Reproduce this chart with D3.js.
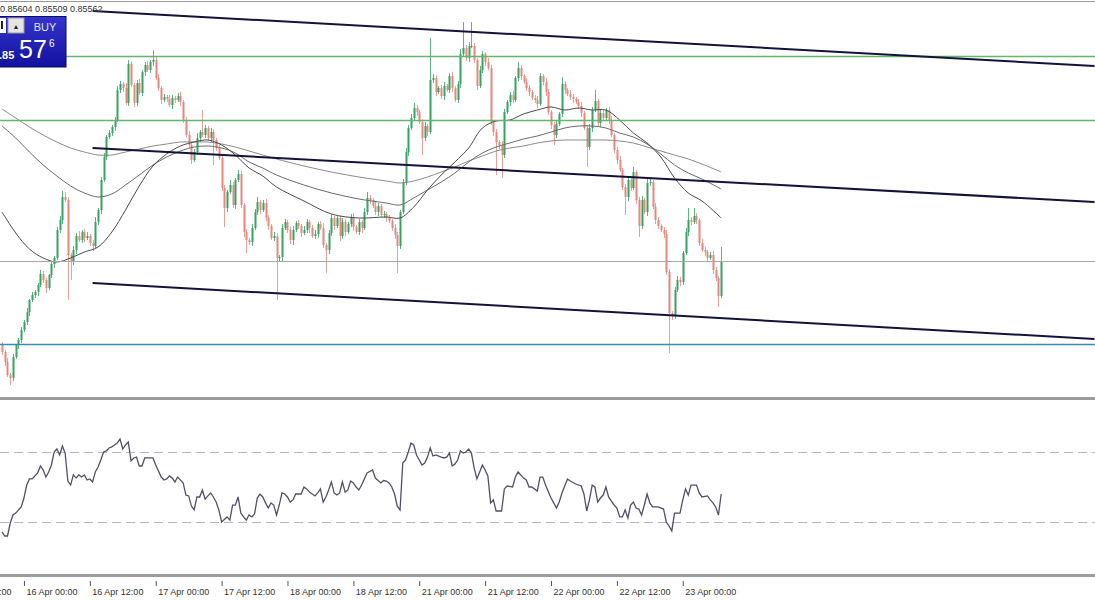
<!DOCTYPE html>
<html><head><meta charset="utf-8">
<script src="https://d3js.org/d3.v7.min.js"></script>
<style>html,body{margin:0;padding:0;background:#fff;overflow:hidden}text{font-family:"Liberation Sans",Arial,sans-serif}</style>
</head><body><svg id="c" width="1095" height="600"></svg>
<script>
// ---- DATA (prices in points above 0.85000, i.e. 562 = 0.85562) ----
const firstOpen = 310;
const closes = [
289,259,220,211,274,310,325,355,379,409,445,460,469,490,523,505,481,520,553,571,
655,685,754,745,580,559,595,637,625,649,631,637,616,607,679,715,805,874,934,946,
964,985,1075,1093,1081,1036,1153,1090,1036,1096,1066,1129,1150,1135,1159,1165,1111,1081,1045,1054,
1048,1030,1051,1045,1057,1039,985,940,910,865,889,931,949,940,961,931,949,925,901,871,
781,721,769,790,730,805,823,730,649,625,619,661,709,739,715,736,691,667,631,637,
571,574,661,679,655,625,655,676,667,646,655,679,661,637,643,673,661,610,595,646,
691,667,691,637,679,649,673,694,664,649,679,661,709,751,745,727,709,727,700,703,
691,682,661,640,607,709,799,889,961,991,1021,1009,979,931,967,949,1105,1111,1069,1081,
1057,1087,1075,1117,1081,1045,1093,1183,1201,1171,1207,1207,1165,1087,1135,1183,1159,1141,979,949,
919,910,880,1009,1039,1060,1045,1111,1141,1117,1099,1081,1069,1051,1045,1033,1117,1099,1069,1009,
970,940,973,1003,1093,1075,1063,1054,1048,1039,1027,1006,961,904,961,1015,1042,976,1006,991,
1015,985,940,895,865,835,784,754,805,781,829,745,667,745,709,796,799,724,685,667,
655,643,529,406,397,475,505,499,586,649,685,679,697,685,616,595,589,571,580,535,
511,457,562];
const upW = [
9,6,12,6,9,3,6,9,6,12,3,9,6,6,12,9,6,3,9,6,
9,12,18,15,9,6,12,9,15,6,9,12,6,9,15,6,9,12,6,9,
6,9,12,9,6,15,12,9,6,9,12,6,9,12,6,30,9,12,6,9,
6,12,9,6,9,12,6,9,12,6,9,15,6,66,9,6,12,9,6,9,
12,9,6,15,9,6,12,9,6,9,6,12,9,15,6,9,12,9,6,12,
9,6,12,9,6,9,12,6,9,6,12,9,6,9,12,6,9,15,6,9,
12,6,9,6,12,9,6,9,12,6,9,6,12,18,9,6,12,9,6,9,
6,9,6,12,9,6,9,12,9,12,15,9,6,9,12,6,126,12,9,6,
9,12,6,9,12,6,9,15,78,9,12,72,9,6,12,9,6,12,9,6,
9,6,12,9,6,9,12,6,18,9,6,12,9,6,9,12,9,6,12,9,
6,9,12,6,21,9,6,12,9,6,9,12,6,9,12,9,33,6,12,9,
6,9,12,6,9,12,6,9,12,9,15,6,9,12,6,15,9,6,12,9,
6,9,12,9,6,9,12,9,6,12,36,9,24,9,6,12,9,6,9,12,
9,6,42];
const loW = [
9,12,6,21,9,6,12,9,6,9,12,6,9,12,6,9,15,6,9,12,
6,9,12,6,135,54,9,12,6,9,12,6,9,15,6,9,12,6,9,6,
9,12,6,9,12,6,9,6,12,9,6,9,12,6,9,12,6,9,12,6,
9,6,12,9,6,12,9,6,9,12,6,9,12,6,9,6,12,75,9,6,
9,57,12,6,9,12,6,9,15,39,9,12,6,9,12,6,9,12,6,9,
126,9,12,6,9,12,15,6,9,12,6,9,15,6,9,12,6,9,69,12,
9,12,6,15,9,12,6,9,12,6,9,15,6,9,12,6,9,12,6,9,
12,6,9,12,81,9,6,9,12,6,9,12,6,51,9,12,6,9,12,6,
9,12,6,9,12,6,9,12,6,9,12,6,9,12,6,9,12,6,9,12,
99,12,69,9,6,12,9,6,9,12,6,9,12,6,9,12,6,9,12,9,
12,30,9,6,9,12,6,9,12,6,9,12,6,60,9,12,6,9,12,6,
9,12,6,9,12,6,9,54,12,9,6,12,33,9,6,12,9,6,12,9,
6,12,9,120,12,9,6,12,9,6,12,9,6,12,9,6,12,9,6,12,
9,33,6];

const maIdx  = [0,5,10,15,20,25,30,35,40,45,50,55,60,65,70,75,80,85,90,95,100,110,120,130,140,145,150,155,160,165,170,175,180,185,190,195,200,205,210,215,220,225,230,235,240,245,250,255,262];
const maFast = [709,646,598,571,559,571,589,604,649,715,787,847,883,907,919,925,910,880,841,817,784,742,703,691,694,691,724,775,820,859,901,961,982,985,1003,1015,1024,1015,1021,1015,1015,985,946,916,874,811,766,742,691];
const maMid  = [967,931,889,850,817,787,766,754,763,790,820,850,874,892,904,907,901,886,859,841,820,790,766,748,736,730,751,775,799,826,859,886,904,916,928,937,949,961,967,967,961,946,934,913,883,850,826,808,778];
const maSlow = [1018,991,964,940,919,901,889,880,880,889,898,907,913,919,919,919,913,904,892,880,868,847,829,814,802,796,802,814,829,844,862,877,892,901,907,916,922,925,925,925,925,922,916,904,892,880,868,853,829];

const rsiIdx = [0,1,2,3,4,5,7,8,9,10,11,13,14,15,16,17,18,19,20,21,22,23,24,25,26,27,28,29,30,31,32,33,34,35,36,37,38,39,40,41,42,43,44,45,46,47,48,49,50,51,52,53,55,56,58,59,60,61,62,63,64,66,67,68,69,70,71,72,73,74,75,76,77,78,79,80,82,83,84,85,86,87,88,89,90,91,92,93,94,95,96,97,98,99,100,101,102,103,104,105,106,107,109,110,111,112,114,115,116,117,118,119,120,121,122,123,124,125,126,127,128,129,130,131,133,135,136,138,139,140,141,142,143,144,145,146,147,148,149,150,151,153,154,155,156,157,158,160,161,162,163,164,165,166,167,168,169,170,171,172,173,174,175,176,177,178,179,180,182,183,184,186,187,188,190,191,192,193,195,196,197,198,200,201,202,203,204,206,207,209,211,212,213,214,215,216,217,218,219,220,221,223,224,225,226,227,228,229,230,231,232,233,234,235,236,237,239,241,242,243,244,245,247,248,249,250,251,253,254,255,257,258,259,260,261,262];
const rsiVal = [24.3,22.0,22.0,29.4,34.0,35.1,38.6,43.7,51.1,54.6,54.6,58.0,62.0,59.7,55.7,58.6,62.6,70.0,71.7,68.3,73.4,69.4,53.4,51.1,56.9,55.1,56.9,55.7,56.9,54.0,54.6,52.9,58.6,61.4,65.4,70.0,70.6,72.3,72.9,74.0,75.1,77.4,71.7,74.0,75.7,64.9,66.6,67.1,62.0,62.0,66.6,66.6,66.6,62.6,55.7,54.0,54.6,56.3,55.1,52.9,55.7,52.3,45.4,44.9,39.1,36.9,44.3,44.3,48.3,43.1,44.9,46.6,44.3,41.4,36.9,30.0,32.9,31.1,39.7,39.7,44.3,35.1,32.9,31.1,34.0,32.9,34.6,43.7,46.0,44.3,40.9,38.0,40.9,39.7,34.0,39.7,46.6,46.0,44.3,41.4,42.6,46.0,46.0,50.0,48.9,47.1,44.9,46.6,48.9,41.4,44.3,48.3,52.9,46.6,45.4,46.6,52.9,47.1,48.3,53.4,52.3,50.0,48.3,51.1,58.0,59.7,55.1,52.3,53.7,53.4,52.3,50.0,46.0,39.0,36.9,63.7,65.4,70.0,75.1,74.0,68.3,62.6,63.7,67.1,72.3,67.7,68.3,67.1,66.6,67.1,69.4,62.0,63.1,65.4,70.6,69.4,70.0,71.7,69.4,60.9,54.6,58.6,62.6,59.7,56.3,40.9,42.6,36.3,36.3,48.9,50.6,50.0,55.7,58.6,55.1,54.0,50.0,50.0,47.7,55.7,55.7,51.1,43.7,40.9,38.0,41.4,46.6,54.6,53.4,51.7,50.6,46.0,36.3,42.6,51.1,50.0,41.4,43.7,45.4,50.0,44.3,39.7,38.0,32.9,32.9,36.9,32.3,39.7,41.4,38.0,37.4,34.0,39.7,46.0,40.9,38.6,38.6,37.4,30.0,27.7,24.9,35.1,35.1,42.6,48.9,45.4,51.1,51.1,46.6,44.3,44.9,42.6,40.9,38.6,34.0,46.0];
const rsiLevels = [70, 30];

const levelPrices = [1177, 985, 562, 313];
const levelColors = ["#62b866", "#62b866", "#a8a8a8", "#3a8cab"];

const trendIdx    = [[33, 398], [33, 398], [33, 398]];
const trendPrices = [[1312, 1147], [901, 739], [496, 328]];

const tickIdx    = [-16, 8, 32, 56, 80, 104, 128, 152, 176, 200, 224, 248];
const tickLabels = ["15 Apr 12:00","16 Apr 00:00","16 Apr 12:00","17 Apr 00:00","17 Apr 12:00","18 Apr 00:00","18 Apr 12:00","21 Apr 00:00","21 Apr 12:00","22 Apr 00:00","22 Apr 12:00","23 Apr 00:00"];
const headerText = "0.85604 0.85509 0.85562";
const buyLabel = "BUY", buyPre = ".85", buyBig = "57", buySup = "6";

// ---- DRAW ----
const P = v => 0.85 + v / 1e5;
const svg = d3.select("#c");
const x = d3.scaleLinear().domain([0, 262]).range([2, 721.2]);
const y = d3.scaleLinear().domain([0.85154, 0.86345]).range([397, 0]);
const yr = d3.scaleLinear().domain([0, 100]).range([574.5, 399.5]);

svg.append("rect").attr("width", 1095).attr("height", 600).attr("fill", "#fff");
const defs = svg.append("defs");
defs.append("clipPath").attr("id", "mainClip").append("rect").attr("x", 0).attr("y", 0).attr("width", 1095).attr("height", 396);
defs.append("clipPath").attr("id", "rsiClip").append("rect").attr("x", 0).attr("y", 401).attr("width", 1095).attr("height", 173);

const main = svg.append("g").attr("clip-path", "url(#mainClip)");

// candles
const bars = closes.map((c, i) => {
  const o = i ? closes[i - 1] : firstOpen;
  return { i, o: P(o), c: P(c), h: P(Math.max(o, c) + upW[i]), l: P(Math.min(o, c) - loW[i]) };
});
const bull = "#35a463", bear = "#e8867b";
const cg = main.append("g");
cg.selectAll("line.w").data(bars).join("line").attr("class", "w")
  .attr("x1", d => Math.round(x(d.i)) + 0.5).attr("x2", d => Math.round(x(d.i)) + 0.5)
  .attr("y1", d => y(d.h)).attr("y2", d => y(d.l))
  .attr("stroke", d => d.c >= d.o ? "#5bb582" : "#eaa098").attr("stroke-width", 1);
cg.selectAll("rect.b").data(bars).join("rect").attr("class", "b")
  .attr("x", d => Math.round(x(d.i)) - 0.5).attr("width", 2)
  .attr("y", d => y(Math.max(d.o, d.c)))
  .attr("height", d => Math.max(1, y(Math.min(d.o, d.c)) - y(Math.max(d.o, d.c))))
  .attr("fill", d => d.c >= d.o ? bull : bear);

// moving averages
const maLine = d3.line().x(d => x(d[0])).y(d => y(P(d[1]))).curve(d3.curveCatmullRom.alpha(0.5));
[[maSlow, "#8a8a8a"], [maMid, "#6a6a6a"], [maFast, "#4a4a4a"]].forEach(([arr, col]) => {
  main.append("path").attr("d", maLine(maIdx.map((k, j) => [k, arr[j]])))
    .attr("fill", "none").attr("stroke", col).attr("stroke-width", 1);
});

// horizontal levels
main.selectAll("line.lv").data(levelPrices).join("line").attr("class", "lv")
  .attr("x1", 0).attr("x2", 1095)
  .attr("y1", d => Math.round(y(P(d))) + 0.5).attr("y2", d => Math.round(y(P(d))) + 0.5)
  .attr("stroke", (d, k) => levelColors[k]).attr("stroke-width", (d, k) => k === 2 ? 1 : 1.4);

// trend lines
main.selectAll("line.tl").data(trendIdx).join("line").attr("class", "tl")
  .attr("x1", d => x(d[0])).attr("x2", d => x(d[1]))
  .attr("y1", (d, k) => y(P(trendPrices[k][0]))).attr("y2", (d, k) => y(P(trendPrices[k][1])))
  .attr("stroke", "#12123a").attr("stroke-width", 2);

// panel borders
svg.append("line").attr("x1", 0).attr("x2", 1095).attr("y1", 1.5).attr("y2", 1.5).attr("stroke", "#9a9a9a");
svg.append("rect").attr("x", 0).attr("y", 397).attr("width", 1095).attr("height", 3).attr("fill", "#9c9c9c");
svg.append("rect").attr("x", 0).attr("y", 574).attr("width", 1095).attr("height", 3).attr("fill", "#9c9c9c");

// RSI
const rg = svg.append("g").attr("clip-path", "url(#rsiClip)");
rg.selectAll("line.rl").data(rsiLevels).join("line").attr("class", "rl")
  .attr("x1", 0).attr("x2", 1095)
  .attr("y1", d => Math.round(yr(d)) + 0.5).attr("y2", d => Math.round(yr(d)) + 0.5)
  .attr("stroke", "#b4b4c4").attr("stroke-dasharray", "9,5");
rg.append("path").attr("d", d3.line().x(d => x(d[0])).y(d => yr(d[1]))(rsiIdx.map((k, j) => [k, rsiVal[j]])))
  .attr("fill", "none").attr("stroke", "#505068").attr("stroke-width", 1.3);

// x axis
const ax = d3.axisBottom(x).tickValues(tickIdx).tickFormat((d, k) => tickLabels[k]).tickSize(5);
const ag = svg.append("g").attr("transform", "translate(0,581)").call(ax);
ag.select(".domain").remove();
ag.selectAll(".tick line").attr("stroke", "#555");
ag.selectAll(".tick text").attr("text-anchor", "start").attr("x", 2).attr("y", 14).attr("dy", 0)
  .attr("fill", "#333").style("font-size", "9px").style("font-family", '"Liberation Sans",Arial,sans-serif');

// header text
svg.append("text").attr("x", 0).attr("y", 12).attr("fill", "#333").style("font-size", "9px").text(headerText);

// BUY panel
const grad = defs.append("linearGradient").attr("id", "bg").attr("x1", 0).attr("y1", 0).attr("x2", 0).attr("y2", 1);
grad.append("stop").attr("offset", "0%").attr("stop-color", "#3434cc");
grad.append("stop").attr("offset", "100%").attr("stop-color", "#12129e");
const bp = svg.append("g");
bp.append("rect").attr("x", -1).attr("y", 16.5).attr("width", 67).attr("height", 50.5).attr("fill", "url(#bg)").attr("stroke", "#0b0b6a");
bp.append("rect").attr("x", 0).attr("y", 18).attr("width", 6).attr("height", 15).attr("fill", "#fff");
bp.append("rect").attr("x", 1).attr("y", 21).attr("width", 2).attr("height", 8).attr("fill", "#222");
bp.append("rect").attr("x", 8).attr("y", 18).attr("width", 16).attr("height", 15).attr("fill", "#e4e4e4").attr("stroke", "#9a9a9a");
bp.append("text").attr("x", 16).attr("y", 29).attr("text-anchor", "middle").attr("fill", "#222").style("font-size", "7px").text("▲");
bp.append("text").attr("x", 45).attr("y", 31).attr("text-anchor", "middle").attr("fill", "#dfe3ff").style("font-size", "11px").text(buyLabel);
bp.append("text").attr("x", -1).attr("y", 59).attr("fill", "#fff").style("font-size", "11px").style("font-weight", "bold").text(buyPre);
bp.append("text").attr("x", 19).attr("y", 58).attr("fill", "#fff").style("font-size", "25px").text(buyBig);
bp.append("text").attr("x", 49).attr("y", 47).attr("fill", "#fff").style("font-size", "10px").text(buySup);
</script>
</body></html>
